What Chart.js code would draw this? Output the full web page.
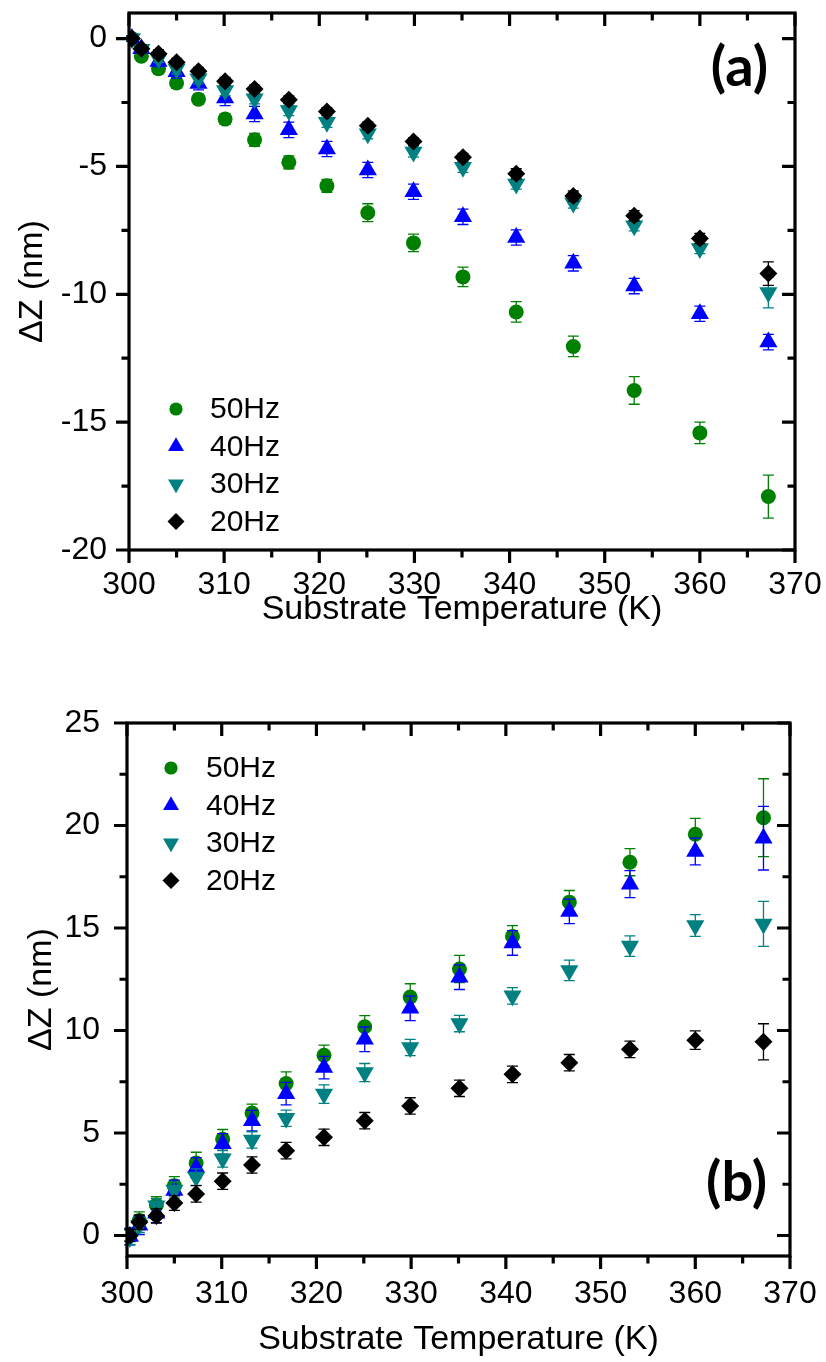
<!DOCTYPE html>
<html><head><meta charset="utf-8">
<script src="https://cdn.jsdelivr.net/npm/chart.js@4/dist/chart.umd.min.js"></script>
<style>
html,body{margin:0;padding:0;background:#fff;}
#wrap{position:relative;width:826px;height:1362px;background:#fff;}
canvas{position:absolute;left:0;}
#ca{top:0;} #cb{top:680px;}
</style></head><body>
<div id="wrap"><canvas id="ca" width="826" height="680"></canvas><canvas id="cb" width="826" height="682"></canvas></div>
<script>
// ---------- data ----------
const temperature = [300.3, 301.3, 303.1, 305.0, 307.3, 310.1, 313.2, 316.8, 320.8, 325.1, 329.9, 335.1, 340.7, 346.7, 353.1, 360.0, 367.2];
const seriesNames = ['50Hz', '40Hz', '30Hz', '20Hz'];
const seriesColors = ['#008000', '#0000ff', '#008080', '#000000'];

// panel (a)
const a50 = [0, -0.69, -1.18, -1.74, -2.37, -3.15, -3.96, -4.84, -5.76, -6.81, -7.99, -9.32, -10.69, -12.04, -13.76, -15.42, -17.91];
const a50Err = [0.1, 0.15, 0.2, 0.2, 0.2, 0.2, 0.25, 0.25, 0.25, 0.35, 0.34, 0.38, 0.4, 0.4, 0.54, 0.42, 0.84];
const a40 = [0, -0.4, -0.9, -1.3, -1.76, -2.32, -2.95, -3.57, -4.32, -5.14, -5.99, -6.97, -7.78, -8.79, -9.68, -10.76, -11.87];
const a40Err = [0.1, 0.15, 0.2, 0.25, 0.25, 0.3, 0.3, 0.3, 0.3, 0.3, 0.3, 0.3, 0.3, 0.3, 0.3, 0.3, 0.3];
const a30 = [0, -0.42, -0.78, -1.18, -1.57, -2.03, -2.35, -2.81, -3.27, -3.72, -4.44, -5.03, -5.69, -6.43, -7.32, -8.21, -9.93];
const a30Err = [0.1, 0.15, 0.15, 0.2, 0.2, 0.2, 0.2, 0.2, 0.2, 0.2, 0.2, 0.2, 0.2, 0.2, 0.2, 0.2, 0.6];
const a20 = [0, -0.4, -0.59, -0.93, -1.28, -1.67, -1.97, -2.39, -2.85, -3.41, -4.03, -4.64, -5.29, -6.16, -6.93, -7.82, -9.19];
const a20Err = [0.1, 0.15, 0.15, 0.15, 0.15, 0.15, 0.15, 0.15, 0.15, 0.15, 0.15, 0.15, 0.2, 0.2, 0.2, 0.2, 0.46];

// panel (b)
const b50 = [0.05, 0.73, 1.49, 2.43, 3.54, 4.7, 5.97, 7.41, 8.79, 10.18, 11.63, 13.0, 14.59, 16.26, 18.21, 19.57, 20.38];
const b50Err = [0.3, 0.42, 0.4, 0.44, 0.52, 0.47, 0.44, 0.57, 0.5, 0.55, 0.65, 0.66, 0.53, 0.57, 0.66, 0.78, 1.9];
const b40 = [-0.05, 0.5, 1.08, 2.2, 3.3, 4.47, 5.6, 6.92, 8.19, 9.57, 11.08, 12.6, 14.27, 15.81, 17.14, 18.73, 19.38];
const b40Err = [0.4, 0.45, 0.45, 0.5, 0.5, 0.5, 0.5, 0.55, 0.55, 0.6, 0.6, 0.6, 0.6, 0.6, 0.66, 0.65, 1.55];
const b30 = [-0.1, 0.5, 1.45, 2.22, 2.85, 3.74, 4.66, 5.72, 6.9, 7.95, 9.17, 10.34, 11.69, 12.93, 14.12, 15.12, 15.2];
const b30Err = [0.35, 0.35, 0.35, 0.4, 0.4, 0.4, 0.4, 0.4, 0.45, 0.44, 0.4, 0.4, 0.4, 0.5, 0.5, 0.53, 1.1];
const b20 = [0, 0.65, 0.95, 1.58, 2.03, 2.65, 3.44, 4.14, 4.79, 5.6, 6.32, 7.18, 7.86, 8.43, 9.08, 9.53, 9.45];
const b20Err = [0.3, 0.35, 0.35, 0.35, 0.4, 0.4, 0.4, 0.4, 0.4, 0.4, 0.4, 0.4, 0.4, 0.4, 0.4, 0.45, 0.88];

// axes / ticks
const xTicks = [300, 310, 320, 330, 340, 350, 360, 370];
const xMinorTicks = [305, 315, 325, 335, 345, 355, 365];
const yTicksA = [-20, -15, -10, -5, 0];
const yMinorTicksA = [-17.5, -12.5, -7.5, -2.5];
const yTicksB = [0, 5, 10, 15, 20, 25];
const yMinorTicksB = [2.5, 7.5, 12.5, 17.5, 22.5];
const xTitle = 'Substrate Temperature (K)';
const yTitle = 'ΔZ (nm)';

// ---------- rendering ----------
const FONT = 'Liberation Sans, Arial, sans-serif';
const styles = [
  {pointStyle: 'circle', radius: 7.5, rotation: 0, order: 3},
  {pointStyle: 'triangle', radius: 10.5, rotation: 0, order: 2},
  {pointStyle: 'triangle', radius: 10.5, rotation: 180, order: 1},
  {pointStyle: 'rectRot', radius: 9, rotation: 0, order: 0}
];

function makeDatasets(seriesList, errList) {
  return seriesList.map((vals, k) => ({
    label: seriesNames[k],
    data: temperature.map((t, i) => ({x: t, y: vals[i]})),
    errors: errList[k],
    backgroundColor: seriesColors[k],
    borderColor: seriesColors[k],
    borderWidth: 0,
    pointStyle: styles[k].pointStyle,
    pointRadius: styles[k].radius,
    pointRotation: styles[k].rotation,
    order: styles[k].order,
    showLine: false
  }));
}

const errorBars = {
  id: 'errorBars',
  afterDatasetDraw(chart, args) {
    const ds = chart.data.datasets[args.index];
    if (!ds.errors) return;
    const ctx = chart.ctx, xs = chart.scales.x, ys = chart.scales.y;
    ctx.save();
    ctx.strokeStyle = ds.borderColor;
    ctx.lineWidth = 1.3;
    ds.data.forEach((p, i) => {
      const e = ds.errors[i];
      const x = xs.getPixelForValue(p.x);
      const y1 = ys.getPixelForValue(p.y + e), y2 = ys.getPixelForValue(p.y - e);
      ctx.beginPath();
      ctx.moveTo(x, y1); ctx.lineTo(x, y2);
      ctx.moveTo(x - 5.5, y1); ctx.lineTo(x + 5.5, y1);
      ctx.moveTo(x - 5.5, y2); ctx.lineTo(x + 5.5, y2);
      ctx.stroke();
    });
    ctx.restore();
  }
};

function drawMarker(ctx, style, x, y, r) {
  ctx.beginPath();
  if (style === 'circle') {
    ctx.arc(x, y, r, 0, Math.PI * 2);
  } else if (style === 'triangle' || style === 'triangleDown') {
    const s = style === 'triangle' ? 1 : -1;
    for (let j = 0; j < 3; j++) {
      const a = j * 2 * Math.PI / 3;
      const px = x + Math.sin(a) * r, py = y - s * Math.cos(a) * r;
      if (j === 0) ctx.moveTo(px, py); else ctx.lineTo(px, py);
    }
    ctx.closePath();
  } else {
    ctx.moveTo(x - r, y); ctx.lineTo(x, y - r); ctx.lineTo(x + r, y); ctx.lineTo(x, y + r);
    ctx.closePath();
  }
  ctx.fill();
}

const frameTicks = {
  id: 'frameTicks',
  afterDraw(chart, args, opts) {
    const ctx = chart.ctx, a = chart.chartArea, xs = chart.scales.x, ys = chart.scales.y;
    ctx.save();
    ctx.strokeStyle = '#000';
    ctx.lineWidth = 3.2;
    ctx.lineCap = 'butt';
    const MAJ = 13, MIN = 7.5;
    ctx.beginPath();
    const xt = (v, L) => {
      const x = xs.getPixelForValue(v);
      ctx.moveTo(x, a.bottom); ctx.lineTo(x, a.bottom + L);
      ctx.moveTo(x, a.top); ctx.lineTo(x, a.top + L);
    };
    const yt = (v, L) => {
      const y = ys.getPixelForValue(v);
      ctx.moveTo(a.left, y); ctx.lineTo(a.left - L, y);
      ctx.moveTo(a.right, y); ctx.lineTo(a.right - L, y);
    };
    opts.xMajor.forEach(v => xt(v, MAJ));
    opts.xMinor.forEach(v => xt(v, MIN));
    opts.yMajor.forEach(v => yt(v, MAJ));
    opts.yMinor.forEach(v => yt(v, MIN));
    ctx.stroke();
    ctx.strokeRect(a.left, a.top, a.right - a.left, a.bottom - a.top);
    // panel label
    ctx.fillStyle = '#000';
    ctx.font = 'bold 56px Lato, "Open Sans", sans-serif';
    ctx.textAlign = 'right';
    ctx.textBaseline = 'alphabetic';
    ctx.fillText(opts.panel, a.right - opts.panelDx, opts.panelFromTop ? a.top + opts.panelDy : a.bottom - opts.panelDy);
    // legend
    ctx.font = '30px ' + FONT;
    ctx.textAlign = 'left';
    ctx.textBaseline = 'middle';
    const lstyles = ['circle', 'triangle', 'triangleDown', 'diamond'];
    const lr = [6.6, 9.2, 9.2, 8.5];
    seriesNames.forEach((name, k) => {
      const y = a.top + opts.legendTop + k * opts.legendGap;
      ctx.fillStyle = seriesColors[k];
      drawMarker(ctx, lstyles[k], a.left + opts.legendMarkerDx, y, lr[k]);
      ctx.fillStyle = '#000';
      ctx.fillText(name, a.left + opts.legendTextDx, y + 1);
    });
    ctx.restore();
  }
};

function zeroPad(s) { s.paddingTop = 0; s.paddingBottom = 0; s.paddingLeft = 0; s.paddingRight = 0; }

function makeChart(id, datasets, cfg) {
  return new Chart(document.getElementById(id), {
    type: 'scatter',
    data: {datasets},
    plugins: [errorBars, frameTicks],
    options: {
      responsive: false,
      animation: false,
      devicePixelRatio: 1,
      events: [],
      layout: {padding: {top: cfg.top, right: cfg.right, left: 0, bottom: 0}},
      plugins: {
        legend: {display: false},
        tooltip: {enabled: false},
        frameTicks: {
          xMajor: xTicks, xMinor: xMinorTicks, yMajor: cfg.yMajor, yMinor: cfg.yMinor,
          panel: cfg.panel, panelDx: cfg.panelDx, panelDy: cfg.panelDy, panelFromTop: cfg.panelFromTop,
          legendTop: cfg.legendTop, legendGap: cfg.legendGap, legendMarkerDx: cfg.legendMarkerDx, legendTextDx: cfg.legendTextDx
        }
      },
      scales: {
        x: {
          type: 'linear', position: 'bottom', min: 300, max: 370,
          afterBuildTicks: s => { s.ticks = xTicks.map(v => ({value: v})); },
          afterFit: s => { s.height = cfg.xHeight; zeroPad(s); },
          ticks: {font: {family: FONT, size: 32}, color: '#000', padding: cfg.xPad, maxRotation: 0, autoSkip: false},
          grid: {display: false, drawTicks: false},
          border: {display: false},
          title: {display: true, text: xTitle, color: '#000', font: {family: FONT, size: 34}, padding: {top: 0, bottom: cfg.xTitlePad}}
        },
        y: {
          type: 'linear', position: 'left', min: cfg.yMin, max: cfg.yMax,
          afterBuildTicks: s => { s.ticks = cfg.yMajor.map(v => ({value: v})); },
          afterFit: s => { s.width = cfg.yWidth; zeroPad(s); },
          ticks: {font: {family: FONT, size: 32}, color: '#000', padding: cfg.yPad, autoSkip: false},
          grid: {display: false, drawTicks: false},
          border: {display: false},
          title: {display: true, text: yTitle, color: '#000', font: {family: FONT, size: 34}, padding: {top: cfg.yTitlePad, bottom: 0}}
        }
      }
    }
  });
}

makeChart('ca', makeDatasets([a50, a40, a30, a20], [a50Err, a40Err, a30Err, a20Err]), {
  top: 13, right: 31, xHeight: 130, yWidth: 129, yMin: -20, yMax: 1,
  yMajor: yTicksA, yMinor: yMinorTicksA, xPad: 16, yPad: 22, xTitlePad: 50, yTitlePad: 12,
  panel: '(a)', panelDx: 27, panelDy: 73, panelFromTop: true,
  legendTop: 396, legendGap: 37.5, legendMarkerDx: 47, legendTextDx: 81
});
makeChart('cb', makeDatasets([b50, b40, b30, b20], [b50Err, b40Err, b30Err, b20Err]), {
  top: 43, right: 36, xHeight: 106, yWidth: 127, yMin: -1, yMax: 25,
  yMajor: yTicksB, yMinor: yMinorTicksB, xPad: 19, yPad: 27, xTitlePad: 2, yTitlePad: 21,
  panel: '(b)', panelDx: 23, panelDy: 55, panelFromTop: false,
  legendTop: 45, legendGap: 37.5, legendMarkerDx: 44, legendTextDx: 79
});
</script>
</body></html>
